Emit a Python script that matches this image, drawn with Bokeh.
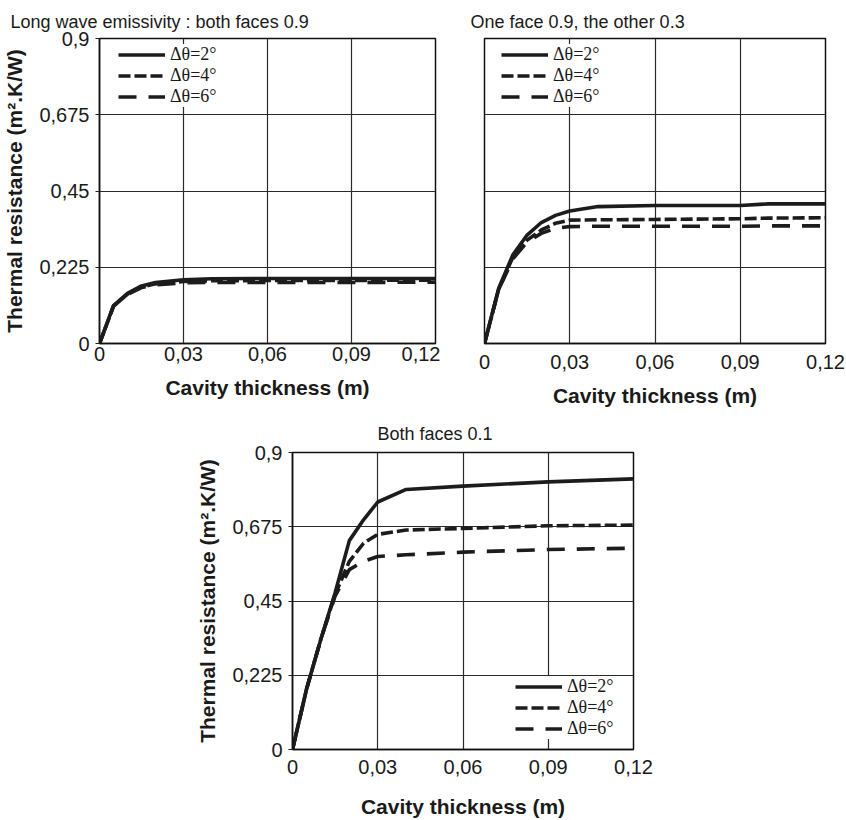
from bokeh.plotting import figure
from bokeh.layouts import column, row
from bokeh.models import Range1d, FixedTicker, Legend, LegendItem
from bokeh.embed import file_html
from bokeh.resources import INLINE

# ---------------- data ----------------
X_TICKS = [0, 0.03, 0.06, 0.09, 0.12]
X_TICK_LABELS = ["0", "0,03", "0,06", "0,09", "0,12"]
Y_TICKS = [0, 0.225, 0.45, 0.675, 0.9]
Y_TICK_LABELS = ["0", "0,225", "0,45", "0,675", "0,9"]

SERIES_NAMES = ["Δθ=2°", "Δθ=4°", "Δθ=6°"]

# Panel A: both faces 0.9
xa = [0, 0.005, 0.01, 0.015, 0.02, 0.03, 0.04, 0.06, 0.09, 0.12]
a_dt2 = [0, 0.112, 0.148, 0.170, 0.180, 0.188, 0.191, 0.192, 0.192, 0.192]
a_dt4 = [0, 0.110, 0.146, 0.167, 0.176, 0.183, 0.185, 0.186, 0.186, 0.187]
a_dt6 = [0, 0.110, 0.145, 0.165, 0.173, 0.179, 0.180, 0.180, 0.180, 0.181]

# Panel B: one face 0.9, the other 0.3
xb = [0, 0.005, 0.01, 0.015, 0.02, 0.025, 0.03, 0.04, 0.06, 0.09, 0.1, 0.12]
b_dt2 = [0, 0.163, 0.262, 0.320, 0.357, 0.378, 0.391, 0.404, 0.407, 0.407, 0.412, 0.412]
b_dt4 = [0, 0.160, 0.255, 0.305, 0.335, 0.355, 0.364, 0.365, 0.366, 0.368, 0.370, 0.371]
b_dt6 = [0, 0.160, 0.250, 0.300, 0.325, 0.340, 0.345, 0.346, 0.346, 0.346, 0.347, 0.347]

# Panel C: both faces 0.1
xc = [0, 0.005, 0.01, 0.015, 0.02, 0.025, 0.03, 0.04, 0.06, 0.09, 0.12]
c_dt2 = [0, 0.185, 0.335, 0.475, 0.633, 0.696, 0.750, 0.788, 0.798, 0.811, 0.820]
c_dt4 = [0, 0.185, 0.335, 0.470, 0.570, 0.625, 0.652, 0.665, 0.670, 0.678, 0.680]
c_dt6 = [0, 0.185, 0.335, 0.465, 0.545, 0.570, 0.585, 0.590, 0.598, 0.606, 0.610]

TITLES = ["Long wave emissivity : both faces 0.9", "One face 0.9, the other 0.3", "Both faces 0.1"]
X_LABEL = "Cavity thickness (m)"
Y_LABEL = "Thermal resistance (m².K/W)"

# ---------------- styling ----------------
SANS = "Liberation Sans"
SERIF = "Liberation Serif"
LINE_COLOR = "#1c1c1c"
DASHES = ["solid", "12 4", "18 12"]
LW = 3.6


def make_panel(width, height, mb_left, mb_right, mb_top, mb_bottom, title, title_offset,
               title_standoff, xs, ys_list, show_y_labels, legend_loc,
               tick_standoff, label_standoff):
    p = figure(width=width, height=height, output_backend="svg", toolbar_location=None,
               x_range=Range1d(0, 0.12), y_range=Range1d(0, 0.9),
               min_border_left=mb_left, min_border_right=mb_right,
               min_border_top=mb_top, min_border_bottom=mb_bottom)
    p.title.text = title
    p.title.text_font = SANS
    p.title.text_font_style = "normal"
    p.title.text_font_size = "18px"
    p.title.text_color = "#1a1a1a"
    p.title.align = "left"
    p.title.vertical_align = "bottom"
    p.title.offset = title_offset
    p.title.standoff = title_standoff

    p.outline_line_color = "#111111"
    p.outline_line_width = 1.5
    p.background_fill_color = "white"
    p.border_fill_color = "white"

    p.xaxis.ticker = FixedTicker(ticks=X_TICKS)
    p.yaxis.ticker = FixedTicker(ticks=Y_TICKS)
    p.xaxis.major_label_overrides = dict(zip(X_TICKS, X_TICK_LABELS))
    p.yaxis.major_label_overrides = dict(zip(Y_TICKS, Y_TICK_LABELS))

    for ax in (p.xaxis, p.yaxis):
        ax.axis_line_color = "#111111"
        ax.axis_line_width = 1.5
        ax.minor_tick_line_color = None
        ax.major_label_text_font = SANS
        ax.major_label_text_font_size = "20px"
        ax.major_label_text_color = "#1a1a1a"
        ax.axis_label_text_font = SANS
        ax.axis_label_text_font_style = "bold"
        ax.axis_label_text_font_size = "21px"
        ax.axis_label_text_color = "#1a1a1a"

    p.xaxis.major_tick_line_color = None
    p.xaxis.major_label_standoff = tick_standoff
    p.xaxis.axis_label = X_LABEL
    p.xaxis.axis_label_standoff = label_standoff

    p.yaxis.major_tick_line_color = "#222222"
    p.yaxis.major_tick_in = 0
    p.yaxis.major_tick_out = 4
    p.yaxis.major_label_standoff = 6
    if show_y_labels:
        p.yaxis.axis_label = Y_LABEL
        p.yaxis.axis_label_standoff = 10
    else:
        p.yaxis.visible = False

    p.xgrid.grid_line_color = "#2a2a2a"
    p.ygrid.grid_line_color = "#2a2a2a"
    p.xgrid.grid_line_width = 1.2
    p.ygrid.grid_line_width = 1.2

    items = []
    for name, ys, dash in zip(SERIES_NAMES, ys_list, DASHES):
        r = p.line(xs, ys, line_color=LINE_COLOR, line_width=LW, line_dash=dash)
        items.append(LegendItem(label=name, renderers=[r]))

    legend = Legend(items=items, location=legend_loc)
    legend.label_text_font = SERIF
    legend.label_text_font_size = "18px"
    legend.label_text_color = "#1a1a1a"
    legend.glyph_width = 47
    legend.glyph_height = 21
    legend.label_height = 21
    legend.label_standoff = 5
    legend.spacing = 0
    legend.padding = 5
    legend.margin = 0
    legend.border_line_color = None
    legend.background_fill_color = "white"
    legend.background_fill_alpha = 1.0
    p.add_layout(legend, "center")
    return p


p1 = make_panel(440, 412, 99, 5, 38, 69, TITLES[0], -89, 14, xa, [a_dt2, a_dt4, a_dt6],
                True, (19, 236), -3, 12)
p2 = make_panel(406, 412, 44, 21, 38, 69, TITLES[1], -14, 14, xb, [b_dt2, b_dt4, b_dt6],
                False, (17, 236), 5, 12)
p3 = make_panel(846, 408, 292, 213, 40, 71, TITLES[2], 85, 17, xc, [c_dt2, c_dt4, c_dt6],
                True, (223, 10), 4, 18)

layout = column(row(p1, p2), p3)

with open("out.html", "w") as f:
    f.write(file_html(layout, INLINE))
